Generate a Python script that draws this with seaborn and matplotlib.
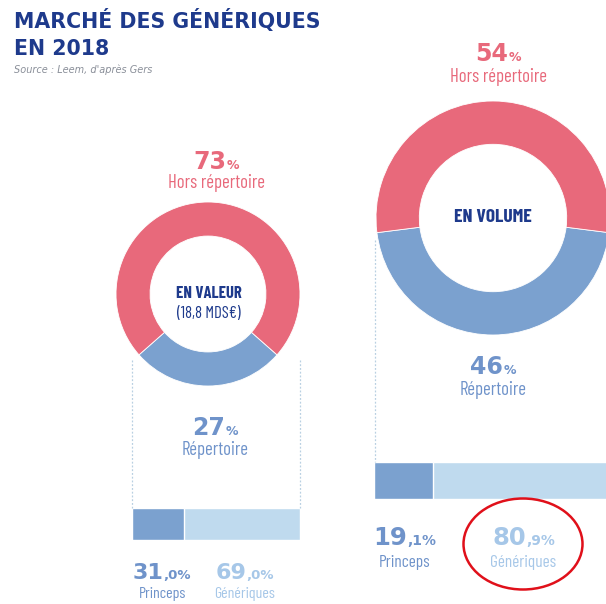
import matplotlib
matplotlib.use("Agg")
import matplotlib.pyplot as plt
from matplotlib import font_manager
from matplotlib.offsetbox import TextArea, HPacker, AnnotationBbox
from matplotlib.patches import Ellipse
import seaborn as sns
import pandas as pd

# ---------------- data ----------------
segments = ["Répertoire", "Hors répertoire"]
valeur_pct = [27, 73]
volume_pct = [46, 54]
split_labels = ["Princeps", "Génériques"]
valeur_split = [31.0, 69.0]
volume_split = [19.1, 80.9]
title_lines = ["MARCHÉ DES GÉNÉRIQUES", "EN 2018"]
source = "Source : Leem, d'après Gers"
centre_valeur = ["EN VALEUR", "(18,8 MDS€)"]
centre_volume = ["EN VOLUME"]

# ---------------- style ----------------
sns.set_theme(style="white")
plt.rcParams["font.family"] = ["DejaVu Sans"]

avail = {f.name for f in font_manager.fontManager.ttflist}
HAS_BARLOW = "Barlow Condensed" in avail
COND = dict(family="Barlow Condensed") if HAS_BARLOW else dict(family="DejaVu Sans", fontstretch="condensed")
GEO = "DejaVu Sans"

RED = "#e8697b"
BLUE = "#7ba1cf"
LIGHT = "#bfdaee"
NAVY = "#1e3a8c"
NUM_BLUE = "#6f93ca"
NUM_LIGHT = "#a6c7e8"
DOT = "#b9d0e2"

W, H = 606, 604
fig = plt.figure(figsize=(W / 100, H / 100), dpi=100)
fig.patch.set_facecolor("white")


def px_axes(left, top, width, height):
    return fig.add_axes([left / W, 1 - (top + height) / H, width / W, height / H])


def donut(ax, values, start):
    ax.pie(values, colors=[BLUE, RED], startangle=start, counterclock=True,
           radius=1, wedgeprops=dict(width=0.37, linewidth=0.6, edgecolor="white"))
    ax.set_xlim(-1, 1)
    ax.set_ylim(-1, 1)
    ax.set_aspect("equal")
    ax.axis("off")


# left donut (valeur): repertoire wedge centred at bottom
ax1 = px_axes(116, 202, 184, 184)
donut(ax1, valeur_pct, 270 - valeur_pct[0] * 3.6 / 2)

# right donut (volume)
ax2 = px_axes(376, 101, 234, 234)
donut(ax2, volume_pct, 270 - volume_pct[0] * 3.6 / 2)


def split_bar(ax, split):
    df = pd.DataFrame({"cat": ["a"], "total": [sum(split)], "princeps": [split[0]]})
    sns.barplot(data=df, x="total", y="cat", orient="h", color=LIGHT, width=1,
                saturation=1, ax=ax)
    sns.barplot(data=df, x="princeps", y="cat", orient="h", color=BLUE, width=1,
                saturation=1, ax=ax)
    ax.set_xlim(0, sum(split))
    ax.set_ylim(0.5, -0.5)
    ax.axis("off")


bx1 = px_axes(132, 508, 168, 32)
split_bar(bx1, valeur_split)
bx2 = px_axes(374, 462, 309, 37)
split_bar(bx2, volume_split)

# ---------------- overlay (texts, guides) ----------------
ov = fig.add_axes([0, 0, 1, 1], zorder=10)
ov.set_xlim(0, W)
ov.set_ylim(H, 0)
ov.axis("off")
ov.patch.set_alpha(0)

tsize = 14.8
ov.text(14, 28, title_lines[0], fontsize=tsize, fontweight="bold", color=NAVY,
        va="baseline", family=GEO)
ov.text(14, 55, title_lines[1], fontsize=tsize, fontweight="bold", color=NAVY,
        va="baseline", family=GEO)
ov.text(14, 70, source, fontsize=7, style="italic", color="#8a8f99", va="center")


def number(x, y, value, color, big=17, small=9, decimals=0):
    s = f"{value:.{decimals}f}"
    if decimals:
        a, b = s.split(".")
        small_txt = "," + b + "%"
    else:
        a, small_txt = s, "%"
    t1 = TextArea(a, textprops=dict(color=color, fontsize=big, fontweight="bold",
                                    family=GEO))
    t2 = TextArea(small_txt, textprops=dict(color=color, fontsize=small, fontweight="bold",
                                            family=GEO))
    box = HPacker(children=[t1, t2], align="baseline", pad=0, sep=0)
    ab = AnnotationBbox(box, (x, y), xycoords="data", frameon=False,
                        box_alignment=(0.5, 0.5), pad=0)
    ov.add_artist(ab)


def label(x, y, txt, color, size=13.5, weight="normal"):
    ov.text(x, y, txt, fontsize=size, color=color, ha="center", va="center",
            fontweight=weight, **COND)


# left donut labels
number(216, 162, valeur_pct[1], RED)
label(216, 183, segments[1], RED)
label(209, 293, centre_valeur[0], NAVY, size=12, weight="bold")
label(209, 313, centre_valeur[1], NAVY, size=12)
number(215, 428, valeur_pct[0], NUM_BLUE)
label(215, 450, segments[0], NUM_BLUE)

# right donut labels
number(498, 54, volume_pct[1], RED)
label(498, 77, segments[1], RED)
label(493, 217, centre_volume[0], NAVY, size=14, weight="bold")
number(493, 367, volume_pct[0], NUM_BLUE)
label(493, 390, segments[0], NUM_BLUE)

# bar labels
number(162, 573, valeur_split[0], NUM_BLUE, big=16, small=9.5, decimals=1)
label(163, 594, split_labels[0], NUM_BLUE, size=11.5)
number(245, 573, valeur_split[1], NUM_LIGHT, big=16, small=9.5, decimals=1)
label(245, 594, split_labels[1], NUM_LIGHT, size=11.5)
number(405, 538, volume_split[0], NUM_BLUE, big=17.5, small=10, decimals=1)
label(405, 562, split_labels[0], NUM_BLUE, size=12.5)
number(524, 538, volume_split[1], NUM_LIGHT, big=17.5, small=10, decimals=1)
label(523, 562, split_labels[1], NUM_LIGHT, size=12.5)

# dotted guides
for xx, y0, y1 in [(132, 360, 508), (300, 360, 508), (375, 240, 462)]:
    ov.plot([xx, xx], [y0, y1], color=DOT, lw=0.9, ls=(0, (1.5, 1.5)))

# red highlight ellipse
ov.add_patch(Ellipse((523, 544), 119, 91, fill=False, edgecolor="#e0101a", lw=1.8))

fig.savefig("out.png", dpi=100)
